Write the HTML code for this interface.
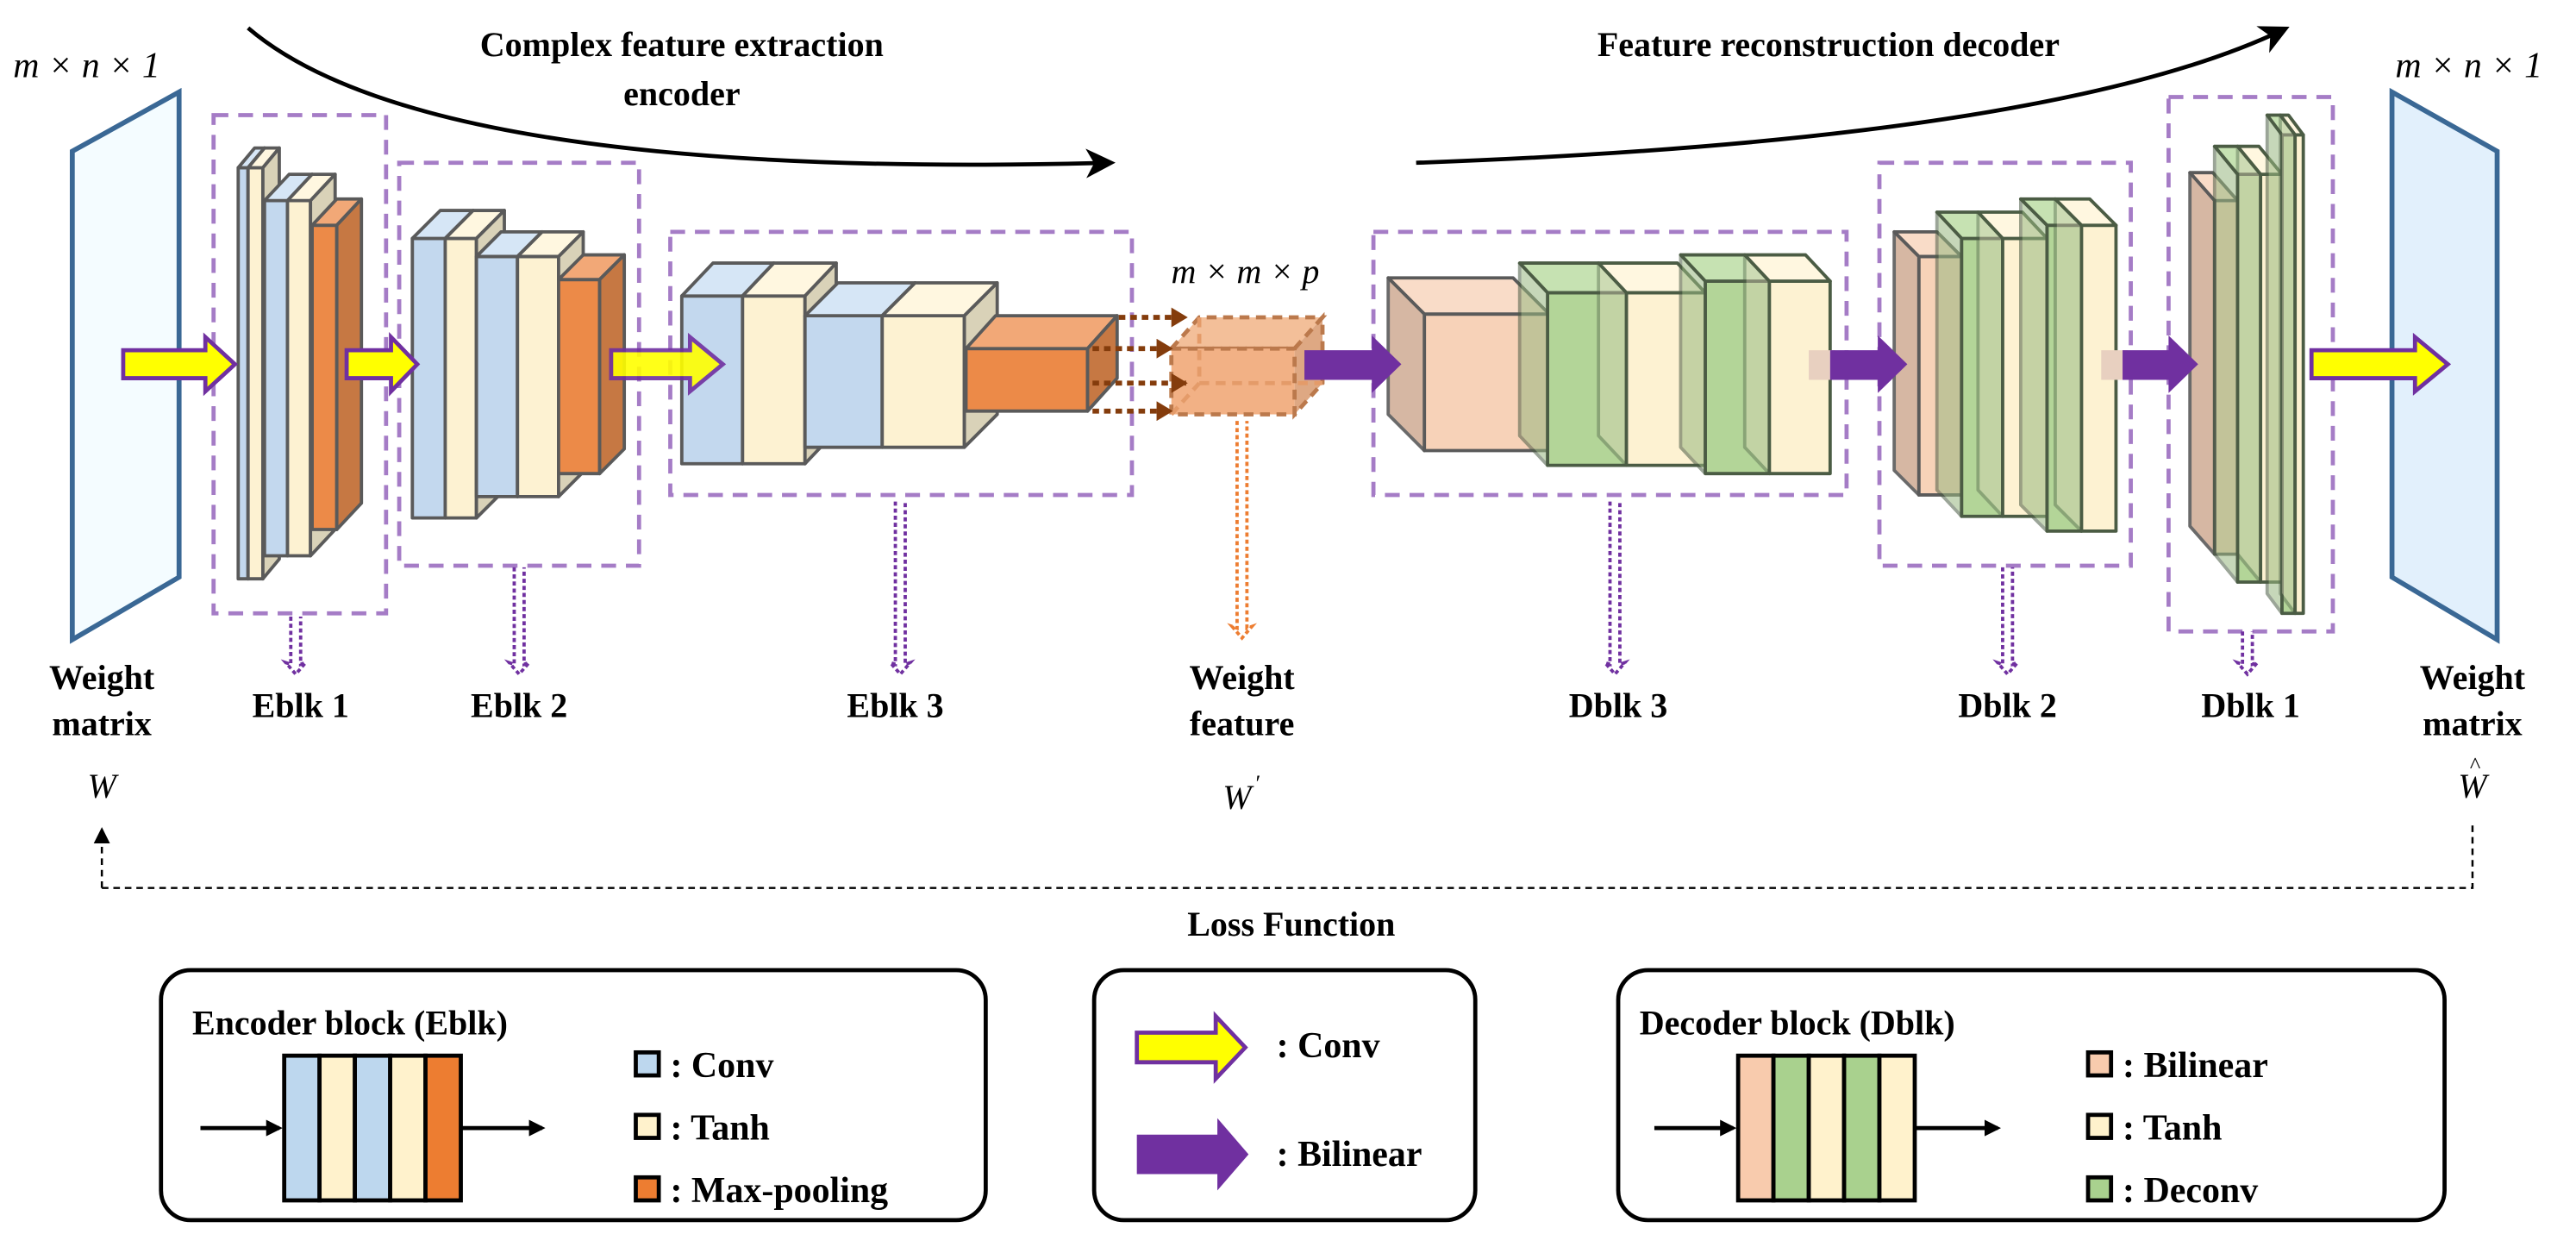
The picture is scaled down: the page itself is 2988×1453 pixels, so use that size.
<!DOCTYPE html>
<html><head><meta charset="utf-8"><style>
html,body{margin:0;padding:0;background:#fff;}
svg{display:block;}
text{font-family:"Liberation Serif",serif;font-weight:bold;fill:#000;}
.it{font-style:italic;font-weight:normal;}
.b polygon,.b rect{stroke:#5a5a5a;stroke-width:2;stroke-linejoin:round;}
.bf{fill:#c3d8ee}.bt{fill:#d6e6f6}.bs{fill:#a9bccf}
.cf{fill:#fdf2d2}.ct{fill:#fff7e0}.cs{fill:#d9d2b8}
.of{fill:#ec8a48}.ot{fill:#f2a877}.os{fill:#c67843}
.pf{fill:#f7d2b8}.pt{fill:#f9dcc8}.ps{fill:#d2b09a;opacity:.9}
.gf{fill:#b3d598}.gt{fill:#c6e2b2}.gs{fill:#98b880;opacity:.55}
.g polygon,.g rect{stroke:#4b5c44}
.dash{fill:none;stroke:#a57cc6;stroke-width:2.5;stroke-dasharray:9 6;}
.dp{fill:none;stroke:#7030a0;stroke-width:2;stroke-dasharray:2.5 1.8;}
.ya{fill:#ffff00;stroke:#7030a0;stroke-width:2.5;}
.pa{fill:#7030a0;}
</style></head><body>
<svg width="2988" height="1453" viewBox="0 0 1568 762" preserveAspectRatio="none" xmlns="http://www.w3.org/2000/svg">
<defs>
<marker id="ah" markerWidth="10" markerHeight="10" refX="8" refY="5" orient="auto" markerUnits="userSpaceOnUse"><path d="M0,0 L10,5 L0,10 z" fill="#000"/></marker>
<marker id="ah2" markerWidth="18" markerHeight="18" refX="14" refY="9" orient="auto" markerUnits="userSpaceOnUse"><path d="M0,0 L18,9 L0,18 L5,9 z" fill="#000"/></marker>
<marker id="bh" markerWidth="10" markerHeight="12" refX="9" refY="6" orient="auto" markerUnits="userSpaceOnUse"><path d="M0,0 L10,6 L0,12 z" fill="#843c0c"/></marker>
</defs>

<path d="M151,17 Q260,110 675,99" fill="none" stroke="#000" stroke-width="2.5" marker-end="url(#ah2)"/>
<path d="M862,99 Q1250,85 1390,18" fill="none" stroke="#000" stroke-width="2.5" marker-end="url(#ah2)"/>
<text x="415" y="34" font-size="21" text-anchor="middle">Complex feature extraction</text>
<text x="415" y="64" font-size="21" text-anchor="middle">encoder</text>
<text x="1113" y="34" font-size="21" text-anchor="middle">Feature reconstruction decoder</text>
<text class="it" x="8" y="47" font-size="22">m × n × 1</text>
<text class="it" x="1458" y="47" font-size="22">m × n × 1</text>

<polygon points="44,92 109,56 109,351 44,389" fill="#f4fcff" stroke="#3a6895" stroke-width="3"/>
<polygon points="1456,56 1520,92 1520,389 1456,351" fill="#e2f0fc" stroke="#3a6895" stroke-width="3"/>

<rect class="dash" x="130" y="70" width="105" height="303"/>
<rect class="dash" x="243" y="99" width="146" height="245"/>
<rect class="dash" x="408" y="141" width="281" height="160"/>
<rect class="dash" x="836" y="141" width="288" height="160"/>
<rect class="dash" x="1144" y="99" width="153" height="245"/>
<rect class="dash" x="1320" y="59" width="100" height="325"/>

<g class="b">
<rect class="bf" x="145" y="102" width="6" height="250"/><polygon class="bt" points="145,102 155,90 161,90 151,102"/><polygon class="bs" points="151,102 161,90 161,340 151,352"/>
<rect class="cf" x="151" y="102" width="9" height="250"/><polygon class="ct" points="151,102 161,90 170,90 160,102"/><polygon class="cs" points="160,102 170,90 170,340 160,352"/>
<rect class="bf" x="161" y="122" width="14" height="216"/><polygon class="bt" points="161,122 176,106 190,106 175,122"/><polygon class="bs" points="175,122 190,106 190,322 175,338"/>
<rect class="cf" x="175" y="122" width="14" height="216"/><polygon class="ct" points="175,122 190,106 204,106 189,122"/><polygon class="cs" points="189,122 204,106 204,322 189,338"/>
<rect class="of" x="190" y="137" width="15" height="185"/><polygon class="ot" points="190,137 205,121 220,121 205,137"/><polygon class="os" points="205,137 220,121 220,306 205,322"/>
</g>
<g class="b">
<rect class="bf" x="251" y="145" width="20" height="170"/><polygon class="bt" points="251,145 268,128 288,128 271,145"/><polygon class="bs" points="271,145 288,128 288,298 271,315"/>
<rect class="cf" x="271" y="145" width="19" height="170"/><polygon class="ct" points="271,145 288,128 307,128 290,145"/><polygon class="cs" points="290,145 307,128 307,298 290,315"/>
<rect class="bf" x="290" y="156" width="25" height="146"/><polygon class="bt" points="290,156 305,141 330,141 315,156"/><polygon class="bs" points="315,156 330,141 330,287 315,302"/>
<rect class="cf" x="315" y="156" width="25" height="146"/><polygon class="ct" points="315,156 330,141 355,141 340,156"/><polygon class="cs" points="340,156 355,141 355,287 340,302"/>
<rect class="of" x="340" y="170" width="25" height="118"/><polygon class="ot" points="340,170 355,155 380,155 365,170"/><polygon class="os" points="365,170 380,155 380,273 365,288"/>
</g>
<g class="b">
<rect class="bf" x="415" y="180" width="37" height="102"/><polygon class="bt" points="415,180 434,160 471,160 452,180"/><polygon class="bs" points="452,180 471,160 471,262 452,282"/>
<rect class="cf" x="452" y="180" width="38" height="102"/><polygon class="ct" points="452,180 471,160 509,160 490,180"/><polygon class="cs" points="490,180 509,160 509,262 490,282"/>
<rect class="bf" x="490" y="192" width="47" height="80"/><polygon class="bt" points="490,192 510,172 557,172 537,192"/><polygon class="bs" points="537,192 557,172 557,252 537,272"/>
<rect class="cf" x="537" y="192" width="50" height="80"/><polygon class="ct" points="537,192 557,172 607,172 587,192"/><polygon class="cs" points="587,192 607,172 607,252 587,272"/>
<rect class="of" x="588" y="212" width="74" height="38"/><polygon class="ot" points="588,212 606,192 680,192 662,212"/><polygon class="os" points="662,212 680,192 680,230 662,250"/>
</g>

<g stroke="#b0622d" stroke-width="2.5" stroke-dasharray="6 4" opacity="0.85">
<polygon points="713,212 730,193 805,193 788,212" fill="#f2b488"/>
<polygon points="788,212 805,193 805,233 788,252" fill="#d99a6e"/>
<rect x="713" y="212" width="75" height="40" fill="#f0a470"/>
<line x1="730" y1="193" x2="730" y2="233" stroke="#e08a50"/>
<line x1="730" y1="233" x2="805" y2="233" stroke="#e08a50"/>
<line x1="713" y1="252" x2="730" y2="233" stroke="#e08a50"/>
</g>
<g stroke="#843c0c" stroke-width="3" stroke-dasharray="4 3">
<line x1="681" y1="193" x2="722" y2="193" marker-end="url(#bh)"/>
<line x1="665" y1="212" x2="713" y2="212" marker-end="url(#bh)"/>
<line x1="665" y1="233" x2="722" y2="233" marker-end="url(#bh)"/>
<line x1="665" y1="250" x2="713" y2="250" marker-end="url(#bh)"/>
</g>
<text class="it" x="758" y="172" font-size="21" text-anchor="middle">m × m × p</text>

<g class="b">
<rect class="pf" x="867" y="191" width="76" height="83"/><polygon class="pt" points="867,191 845,169 921,169 943,191"/><polygon class="ps" points="867,191 845,169 845,252 867,274"/>
</g>
<g class="b g">
<rect class="gf" x="942" y="178" width="48" height="105"/><polygon class="gt" points="942,178 925,160 973,160 990,178"/><polygon class="gs" points="942,178 925,160 925,265 942,283"/>
<rect class="cf" x="990" y="178" width="48" height="105"/><polygon class="ct" points="990,178 973,160 1021,160 1038,178"/><polygon class="cs" points="990,178 973,160 973,265 990,283" opacity=".4"/>
<rect class="gf" x="1038" y="171" width="39" height="117"/><polygon class="gt" points="1038,171 1023,155 1062,155 1077,171"/><polygon class="gs" points="1038,171 1023,155 1023,272 1038,288"/>
<rect class="cf" x="1077" y="171" width="37" height="117"/><polygon class="ct" points="1077,171 1062,155 1099,155 1114,171"/><polygon class="cs" points="1077,171 1062,155 1062,272 1077,288" opacity=".4"/>
</g>
<g class="b">
<rect class="pf" x="1168" y="156" width="26" height="145"/><polygon class="pt" points="1168,156 1153,141 1179,141 1194,156"/><polygon class="ps" points="1168,156 1153,141 1153,286 1168,301"/>
</g>
<g class="b g">
<rect class="gf" x="1194" y="145" width="25" height="169"/><polygon class="gt" points="1194,145 1179,129 1204,129 1219,145"/><polygon class="gs" points="1194,145 1179,129 1179,298 1194,314"/>
<rect class="cf" x="1219" y="145" width="27" height="169"/><polygon class="ct" points="1219,145 1204,129 1231,129 1246,145"/><polygon class="cs" points="1219,145 1204,129 1204,298 1219,314" opacity=".4"/>
<rect class="gf" x="1246" y="137" width="21" height="186"/><polygon class="gt" points="1246,137 1230,121 1251,121 1267,137"/><polygon class="gs" points="1246,137 1230,121 1230,307 1246,323"/>
<rect class="cf" x="1267" y="137" width="21" height="186"/><polygon class="ct" points="1267,137 1251,121 1272,121 1288,137"/><polygon class="cs" points="1267,137 1251,121 1251,307 1267,323" opacity=".4"/>
</g>
<g class="b">
<rect class="pf" x="1348" y="122" width="14" height="215"/><polygon class="pt" points="1348,122 1333,105 1347,105 1362,122"/><polygon class="ps" points="1348,122 1333,105 1333,320 1348,337"/>
</g>
<g class="b g">
<rect class="gf" x="1362" y="106" width="14" height="248"/><polygon class="gt" points="1362,106 1348,89 1362,89 1376,106"/><polygon class="gs" points="1362,106 1348,89 1348,337 1362,354"/>
<rect class="cf" x="1376" y="106" width="13" height="248"/><polygon class="ct" points="1376,106 1362,89 1375,89 1389,106"/><polygon class="cs" points="1376,106 1362,89 1362,337 1376,354" opacity=".4"/>
<rect class="gf" x="1389" y="82" width="8" height="291"/><polygon class="gt" points="1389,82 1380,70 1388,70 1397,82"/><polygon class="gs" points="1389,82 1380,70 1380,361 1389,373"/>
<rect class="cf" x="1397" y="82" width="5" height="291"/><polygon class="ct" points="1397,82 1388,70 1393,70 1402,82"/><polygon class="cs" points="1397,82 1388,70 1388,361 1397,373" opacity=".4"/>
</g>

<polygon class="ya" points="75,213 125,213 125,205 143,221.5 125,238 125,230 75,230"/>
<polygon class="ya" points="211,213 238,213 238,205 254,221.5 238,238 238,230 211,230"/>
<polygon class="ya" points="372,213 420,213 420,205 440,221.5 420,238 420,230 372,230" opacity=".9"/>
<polygon class="ya" points="1407,213 1470,213 1470,205 1490,221.5 1470,238 1470,230 1407,230"/>
<polygon class="pa" points="794,213 835,213 835,204 853,221.5 835,239 835,231 794,231"/>
<rect x="1101" y="213" width="16" height="18" fill="#e8d0c0"/>
<polygon class="pa" points="1114,213 1143,213 1143,204 1161,221.5 1143,239 1143,231 1114,231"/>
<rect x="1279" y="213" width="16" height="18" fill="#e8d0c0"/>
<polygon class="pa" points="1292,213 1320,213 1320,204 1338,221.5 1320,239 1320,231 1292,231"/>

<g class="dp">
<path d="M177,375 V404 L174,403 L180,410 L186,403 L183,404 V375"/>
<path d="M313,345 V404 L310,403 L316,410 L322,403 L319,404 V345"/>
<path d="M545,305 V404 L542,403 L548,410 L554,403 L551,404 V305"/>
<path d="M980,305 V404 L977,403 L983,410 L989,403 L986,404 V305"/>
<path d="M1219,345 V404 L1216,403 L1222,410 L1228,403 L1225,404 V345"/>
<path d="M1365,384 V404 L1362,403 L1368,410 L1374,403 L1371,404 V384"/>
<path d="M753,256 V382 L750,381 L756,388 L762,381 L759,382 V256" stroke="#ed7d31"/>
</g>

<g font-size="21" text-anchor="middle">
<text x="62" y="419">Weight</text><text x="62" y="447">matrix</text>
<text x="183" y="436">Eblk 1</text>
<text x="316" y="436">Eblk 2</text>
<text x="545" y="436">Eblk 3</text>
<text x="756" y="419">Weight</text><text x="756" y="447">feature</text>
<text x="985" y="436">Dblk 3</text>
<text x="1222" y="436">Dblk 2</text>
<text x="1370" y="436">Dblk 1</text>
<text x="1505" y="419">Weight</text><text x="1505" y="447">matrix</text>
</g>
<g font-size="21" text-anchor="middle">
<text class="it" x="62" y="485">W</text>
<text class="it" x="753" y="492">W</text><text class="it" x="765" y="481" font-size="14">′</text>
<text class="it" x="1505" y="485">W</text><text class="it" x="1506" y="470" font-size="14">^</text>
</g>

<path d="M62,540 H1505 V500" fill="none" stroke="#000" stroke-width="1.3" stroke-dasharray="4 3"/>
<path d="M62,540 V505" fill="none" stroke="#000" stroke-width="1.3" stroke-dasharray="4 3" marker-end="url(#ah)"/>
<text x="786" y="569" font-size="21" text-anchor="middle">Loss Function</text>

<rect x="98" y="590" width="502" height="152" rx="18" fill="#fff" stroke="#000" stroke-width="2.5"/>
<text x="117" y="629" font-size="21">Encoder block (Eblk)</text>
<g stroke="#000" stroke-width="2.5">
<rect x="173" y="642" width="21.5" height="88" fill="#bdd7ee"/>
<rect x="194.5" y="642" width="21.5" height="88" fill="#fff2cc"/>
<rect x="216" y="642" width="21.5" height="88" fill="#bdd7ee"/>
<rect x="237.5" y="642" width="21.5" height="88" fill="#fff2cc"/>
<rect x="259" y="642" width="21.5" height="88" fill="#ed7d31"/>
<rect x="387" y="640" width="14" height="14" fill="#bdd7ee"/>
<rect x="387" y="678" width="14" height="14" fill="#fff2cc"/>
<rect x="387" y="716" width="14" height="14" fill="#ed7d31"/>
<line x1="122" y1="686" x2="170" y2="686" marker-end="url(#ah)"/>
<line x1="281" y1="686" x2="330" y2="686" marker-end="url(#ah)"/>
</g>
<g font-size="22"><text x="408" y="655">: Conv</text><text x="408" y="693">: Tanh</text><text x="408" y="731">: Max-pooling</text></g>

<rect x="666" y="590" width="232" height="152" rx="18" fill="#fff" stroke="#000" stroke-width="2.5"/>
<polygon class="ya" points="692,628 740,628 740,618 758,637 740,656 740,646 692,646"/>
<polygon class="pa" points="692,690 741,690 741,680 760,702 741,724 741,714 692,714"/>
<g font-size="22"><text x="777" y="643">: Conv</text><text x="777" y="709">: Bilinear</text></g>

<rect x="985" y="590" width="503" height="152" rx="18" fill="#fff" stroke="#000" stroke-width="2.5"/>
<text x="998" y="629" font-size="21">Decoder block (Dblk)</text>
<g stroke="#000" stroke-width="2.5">
<rect x="1058" y="642" width="21.5" height="88" fill="#f8cbad"/>
<rect x="1079.5" y="642" width="21.5" height="88" fill="#a9d18e"/>
<rect x="1101" y="642" width="21.5" height="88" fill="#fff2cc"/>
<rect x="1122.5" y="642" width="21.5" height="88" fill="#a9d18e"/>
<rect x="1144" y="642" width="21.5" height="88" fill="#fff2cc"/>
<rect x="1271" y="640" width="14" height="14" fill="#f8cbad"/>
<rect x="1271" y="678" width="14" height="14" fill="#fff2cc"/>
<rect x="1271" y="716" width="14" height="14" fill="#a9d18e"/>
<line x1="1007" y1="686" x2="1055" y2="686" marker-end="url(#ah)"/>
<line x1="1166" y1="686" x2="1216" y2="686" marker-end="url(#ah)"/>
</g>
<g font-size="22"><text x="1292" y="655">: Bilinear</text><text x="1292" y="693">: Tanh</text><text x="1292" y="731">: Deconv</text></g>
</svg>
</body></html>
